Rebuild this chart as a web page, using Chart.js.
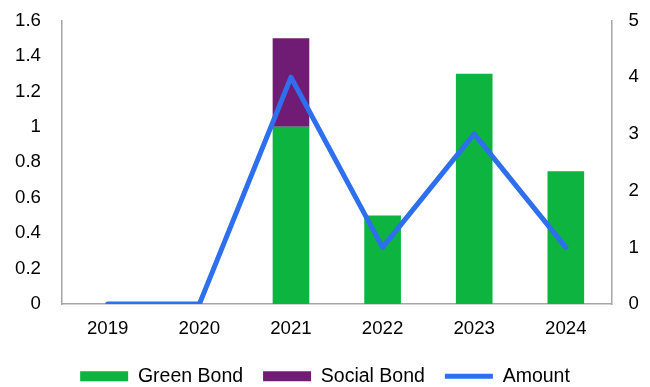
<!DOCTYPE html>
<html>
<head>
<meta charset="utf-8">
<script src="https://cdn.jsdelivr.net/npm/chart.js@4.4.1/dist/chart.umd.min.js"></script>
<style>
  html, body { margin: 0; padding: 0; background: #fff; }
  #wrap { width: 650px; height: 387px; }
</style>
</head>
<body>
<div id="wrap"><canvas id="myChart"></canvas></div>
<script>
// values
const years = ['2019', '2020', '2021', '2022', '2023', '2024'];
const greenBond = [0, 0, 1, 0.5, 1.3, 0.75];
const socialBond = [0, 0, 0.5, 0, 0, 0];
const amount = [0, 0, 4, 1, 3, 1];

const axisGrey = '#a6a6a6';
const font = { family: 'Liberation Sans, Arial, sans-serif', size: 18.67 };

Chart.defaults.font = font;
Chart.defaults.color = '#000';

const ctx = document.getElementById('myChart');

new Chart(ctx, {
  type: 'bar',
  data: {
    labels: years,
    datasets: [
      {
        label: 'Green Bond',
        data: greenBond,
        backgroundColor: '#0db43f',
        borderWidth: 0,
        stack: 'bonds',
        yAxisID: 'y',
        pointStyle: 'rect',
        order: 1,
        barPercentage: 0.5,
        categoryPercentage: 0.8
      },
      {
        label: 'Social Bond',
        data: socialBond,
        backgroundColor: '#701c74',
        borderWidth: 0,
        stack: 'bonds',
        yAxisID: 'y',
        pointStyle: 'rect',
        order: 1,
        barPercentage: 0.5,
        categoryPercentage: 0.8
      },
      {
        type: 'line',
        label: 'Amount',
        data: amount,
        borderColor: '#2d6fed',
        backgroundColor: '#2d6fed',
        borderWidth: 5,
        borderCapStyle: 'round',
        borderJoinStyle: 'round',
        pointRadius: 0,
        pointStyle: 'line',
        tension: 0,
        yAxisID: 'y1',
        order: 0
      }
    ]
  },
  options: {
    responsive: true,
    maintainAspectRatio: false,
    animation: false,
    layout: { padding: { left: 2, right: 2, top: 0, bottom: -9 } },
    plugins: {
      tooltip: { enabled: false },
      legend: {
        position: 'bottom',
        labels: {
          font: { family: font.family, size: 19.5 },
          usePointStyle: true,
          pointStyleWidth: 48,
          boxHeight: 10,
          padding: 20,
          sort: (a, b) => a.datasetIndex - b.datasetIndex
        }
      }
    },
    scales: {
      x: {
        stacked: true,
        grid: { display: false },
        border: { display: true, color: axisGrey, width: 1.5 },
        ticks: { padding: 6 }
      },
      y: {
        stacked: true,
        position: 'left',
        min: 0,
        max: 1.6,
        grid: { display: false },
        border: { display: true, color: axisGrey, width: 1.5 },
        ticks: {
          stepSize: 0.2,
          padding: 13,
          font: { family: font.family, size: 18.67, lineHeight: 0.8 },
          callback: v => Math.round(v * 10) / 10
        }
      },
      y1: {
        position: 'right',
        min: 0,
        max: 5,
        grid: { display: false },
        border: { display: true, color: axisGrey, width: 1.5 },
        ticks: { stepSize: 1, padding: 9, font: { family: font.family, size: 18.67, lineHeight: 0.8 } }
      }
    }
  }
});
</script>
</body>
</html>
